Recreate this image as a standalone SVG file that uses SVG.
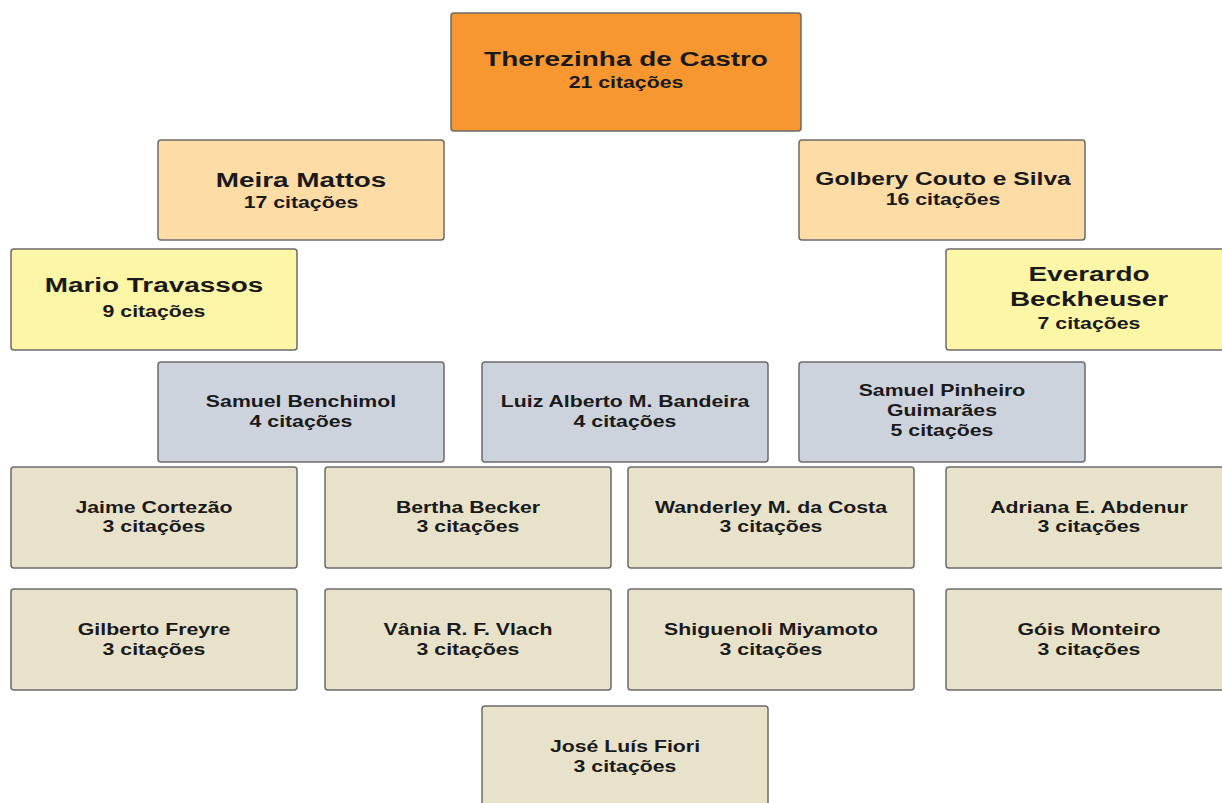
<svg xmlns="http://www.w3.org/2000/svg" width="1222" height="803" viewBox="0 0 1222 803">
<style>
.box{stroke:#6b6b6b;stroke-width:1.5}
.o{fill:#F8962F}.p{fill:#FDDCA6}.y{fill:#FDF6A6}.g{fill:#CDD3DD}.b{fill:#E9E2CB}
text{font-family:"Liberation Sans",Arial,sans-serif;font-weight:bold;fill:#1a1a1a;text-anchor:middle}
.l{font-size:21px}.m{font-size:18.5px}.s{font-size:16px}
</style>
<rect width="1222" height="803" fill="#fff"/>
<g id="n-castro"><rect class="box o" x="451" y="13" width="350" height="118" rx="3"/><g transform="translate(626 0) scale(1.33 1)"><text class="l" x="0" y="66">Therezinha de Castro</text><text class="s" x="0" y="88">21 citações</text></g></g>
<g id="n-meira"><rect class="box p" x="158" y="140" width="286" height="100" rx="3"/><g transform="translate(301 0) scale(1.33 1)"><text class="l" x="0" y="187">Meira Mattos</text><text class="s" x="0" y="208">17 citações</text></g></g>
<g id="n-golbery"><rect class="box p" x="799" y="140" width="286" height="100" rx="3"/><g transform="translate(943 0) scale(1.33 1)"><text class="m" x="0" y="185">Golbery Couto e Silva</text><text class="s" x="0" y="205">16 citações</text></g></g>
<g id="n-mario"><rect class="box y" x="11" y="249" width="286" height="101" rx="3"/><g transform="translate(154 0) scale(1.33 1)"><text class="l" x="0" y="292">Mario Travassos</text><text class="s" x="0" y="317">9 citações</text></g></g>
<g id="n-everardo"><rect class="box y" x="946" y="249" width="282" height="101" rx="3"/><g transform="translate(1089 0) scale(1.33 1)"><text class="l" x="0" y="281">Everardo</text><text class="l" x="0" y="306">Beckheuser</text><text class="s" x="0" y="329">7 citações</text></g></g>
<g id="n-benchimol"><rect class="box g" x="158" y="362" width="286" height="100" rx="3"/><g transform="translate(301 0) scale(1.33 1)"><text class="s" x="0" y="407">Samuel Benchimol</text><text class="s" x="0" y="427">4 citações</text></g></g>
<g id="n-bandeira"><rect class="box g" x="482" y="362" width="286" height="100" rx="3"/><g transform="translate(625 0) scale(1.33 1)"><text class="s" x="0" y="407">Luiz Alberto M. Bandeira</text><text class="s" x="0" y="427">4 citações</text></g></g>
<g id="n-guimaraes"><rect class="box g" x="799" y="362" width="286" height="100" rx="3"/><g transform="translate(942 0) scale(1.33 1)"><text class="s" x="0" y="396">Samuel Pinheiro</text><text class="s" x="0" y="416">Guimarães</text><text class="s" x="0" y="436">5 citações</text></g></g>
<g id="n-cortezao"><rect class="box b" x="11" y="467" width="286" height="101" rx="3"/><g transform="translate(154 0) scale(1.33 1)"><text class="s" x="0" y="513">Jaime Cortezão</text><text class="s" x="0" y="532">3 citações</text></g></g>
<g id="n-becker"><rect class="box b" x="325" y="467" width="286" height="101" rx="3"/><g transform="translate(468 0) scale(1.33 1)"><text class="s" x="0" y="513">Bertha Becker</text><text class="s" x="0" y="532">3 citações</text></g></g>
<g id="n-costa"><rect class="box b" x="628" y="467" width="286" height="101" rx="3"/><g transform="translate(771 0) scale(1.33 1)"><text class="s" x="0" y="513">Wanderley M. da Costa</text><text class="s" x="0" y="532">3 citações</text></g></g>
<g id="n-abdenur"><rect class="box b" x="946" y="467" width="282" height="101" rx="3"/><g transform="translate(1089 0) scale(1.33 1)"><text class="s" x="0" y="513">Adriana E. Abdenur</text><text class="s" x="0" y="532">3 citações</text></g></g>
<g id="n-freyre"><rect class="box b" x="11" y="589" width="286" height="101" rx="3"/><g transform="translate(154 0) scale(1.33 1)"><text class="s" x="0" y="635">Gilberto Freyre</text><text class="s" x="0" y="655">3 citações</text></g></g>
<g id="n-vlach"><rect class="box b" x="325" y="589" width="286" height="101" rx="3"/><g transform="translate(468 0) scale(1.33 1)"><text class="s" x="0" y="635">Vânia R. F. Vlach</text><text class="s" x="0" y="655">3 citações</text></g></g>
<g id="n-miyamoto"><rect class="box b" x="628" y="589" width="286" height="101" rx="3"/><g transform="translate(771 0) scale(1.33 1)"><text class="s" x="0" y="635">Shiguenoli Miyamoto</text><text class="s" x="0" y="655">3 citações</text></g></g>
<g id="n-monteiro"><rect class="box b" x="946" y="589" width="282" height="101" rx="3"/><g transform="translate(1089 0) scale(1.33 1)"><text class="s" x="0" y="635">Góis Monteiro</text><text class="s" x="0" y="655">3 citações</text></g></g>
<g id="n-fiori"><rect class="box b" x="482" y="706" width="286" height="110" rx="3"/><g transform="translate(625 0) scale(1.33 1)"><text class="s" x="0" y="752">José Luís Fiori</text><text class="s" x="0" y="772">3 citações</text></g></g>
<g id="connectors"></g>
</svg>
